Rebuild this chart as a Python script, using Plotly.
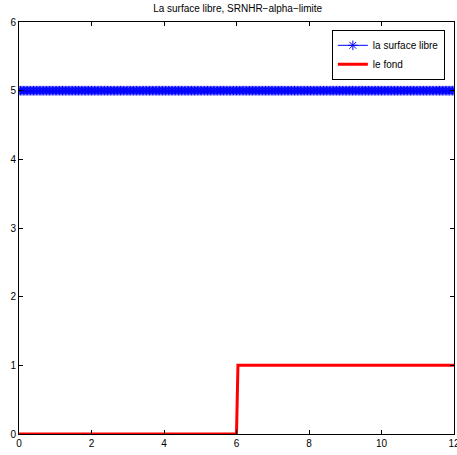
import numpy as np
import plotly.graph_objects as go

# Data
title_text = "La surface libre, SRNHR\u2212alpha\u2212limite"
surface_x = np.linspace(0, 12, 301)
surface_level = [5.0] * len(surface_x)
bed_x = [0, 6, 6.04, 12]
bed_y = [0, 0, 1, 1]
x_ticks = [0, 2, 4, 6, 8, 10, 12]
y_ticks = [0, 1, 2, 3, 4, 5, 6]

FONT = "Liberation Sans, Arial, Helvetica, sans-serif"

fig = go.Figure()
fig.add_trace(go.Scatter(
    x=surface_x, y=surface_level, mode="lines+markers",
    name="la surface libre",
    line=dict(color="#0000ff", width=1),
    marker=dict(symbol="asterisk-open", size=8, color="#0000ff",
                line=dict(color="#0000ff", width=1)),
))
fig.add_trace(go.Scatter(
    x=bed_x, y=bed_y, mode="lines", name="le fond",
    line=dict(color="#ff0000", width=3),
))

axis_common = dict(
    showgrid=False, zeroline=False, showline=True, linecolor="black",
    linewidth=1, mirror="ticks", ticks="inside", ticklen=4,
    tickcolor="black", tickfont=dict(family=FONT, size=10, color="black"),
    ticklabeloverflow="allow", automargin=False,
)
fig.update_xaxes(range=[0, 12], tickvals=x_ticks, **axis_common)
fig.update_yaxes(range=[0, 6], tickvals=y_ticks, **axis_common)

fig.update_layout(
    width=457, height=455,
    margin=dict(l=19, r=3, t=22, b=21, autoexpand=False),
    paper_bgcolor="white", plot_bgcolor="white",
    font=dict(family=FONT, size=10, color="black"),
    title=dict(text=title_text, x=0.52, xanchor="center", y=0.99,
               yanchor="top", font=dict(family=FONT, size=10, color="black")),
    showlegend=True,
    legend=dict(x=0.979, y=0.981, xanchor="right", yanchor="top",
                bgcolor="white", bordercolor="black", borderwidth=1,
                font=dict(family=FONT, size=10, color="black"),
                tracegroupgap=0, itemwidth=30),
)

fig.write_html("out.html", config={"displayModeBar": False},
               post_script="document.body.style.margin='0';document.body.style.overflow='hidden';")
